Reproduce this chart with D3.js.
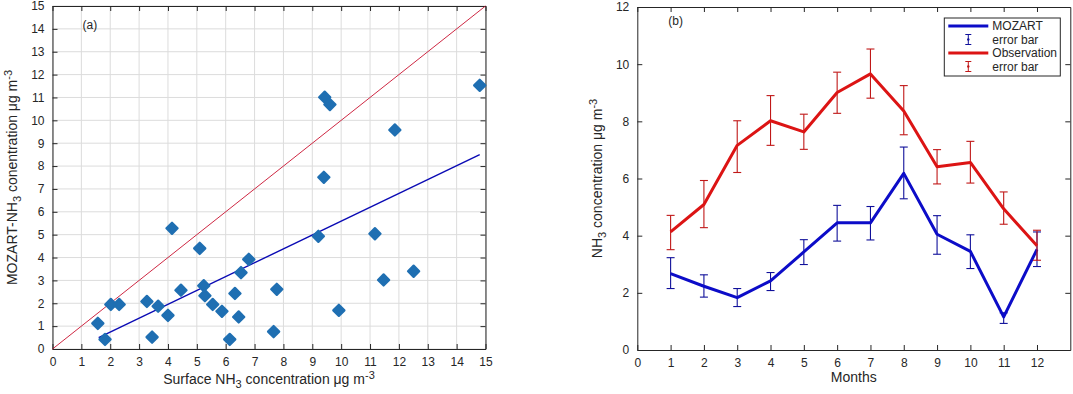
<!DOCTYPE html>
<html>
<head>
<meta charset="utf-8">
<script src="https://cdn.jsdelivr.net/npm/d3@7"></script>
<style>
  body { margin: 0; background: #fff; }
  svg { display: block; font-family: "Liberation Sans", Arial, sans-serif; }
  .tick text { fill: #262626; font-size: 12px; }
  .lbl { fill: #262626; font-size: 14px; }
</style>
</head>
<body>
<div class="vis"></div>
<script>
(function() {
  'use strict';

  // panel (a): surface obs vs MOZART
  var obsX = [1.57, 1.82, 2.02, 2.31, 3.27, 3.45, 3.66, 4.0, 4.14, 4.45, 5.10, 5.24, 5.28, 5.55, 5.87, 6.14,
              6.32, 6.45, 6.53, 6.80, 7.66, 7.77, 9.21, 9.92, 11.17, 11.47, 12.51, 9.43, 9.61, 11.86, 9.40, 14.80];
  var modY = [1.12, 0.42, 1.95, 1.95, 2.08, 0.52, 1.87, 1.47, 5.28, 2.57, 4.40, 2.77, 2.33, 1.95, 1.65, 0.42,
              2.43, 1.40, 3.34, 3.92, 0.76, 2.61, 4.93, 1.69, 5.04, 3.02, 3.40, 11.01, 10.69, 9.58, 7.51, 11.53];
  var fitX = [1.6, 14.8], fitY = [0.5, 8.5];
  var oneX = [0, 15], oneY = [0, 15];
  var ticksA = d3.range(0, 16);

  // panel (b): monthly means with error bars
  var months = [1, 2, 3, 4, 5, 6, 7, 8, 9, 10, 11, 12];
  var mozart   = [2.67, 2.23, 1.83, 2.42, 3.43, 4.45, 4.45, 6.18, 4.05, 3.45, 1.16, 3.52];
  var mozartHi = [3.23, 2.63, 2.15, 2.71, 3.86, 5.06, 5.02, 7.10, 4.70, 4.03, 1.30, 4.13];
  var mozartLo = [2.15, 1.85, 1.52, 2.08, 2.99, 3.81, 3.85, 5.29, 3.35, 2.85, 0.93, 2.92];
  var obs   = [4.13, 5.09, 7.16, 8.02, 7.63, 9.01, 9.66, 8.36, 6.41, 6.56, 4.94, 3.65];
  var obsHi = [4.71, 5.93, 8.02, 8.90, 8.25, 9.72, 10.53, 9.25, 7.01, 7.30, 5.53, 4.19];
  var obsLo = [3.51, 4.28, 6.21, 7.16, 7.02, 8.28, 8.81, 7.53, 5.81, 5.84, 4.40, 3.14];
  var ticksBx = d3.range(0, 13);
  var ticksBy = [0, 2, 4, 6, 8, 10, 12];

  var ink = '#262626';

  var svg = d3.select('.vis').append('svg')
    .attr('width', 1073)
    .attr('height', 394);

  function frame(g, x, y, w, h, xt, yt, grid) {
    if (grid) {
      g.append('g').selectAll('line.gx').data(xt).enter().append('line')
        .attr('x1', x).attr('x2', x).attr('y1', 0).attr('y2', h)
        .attr('stroke', '#dcdcdc').attr('stroke-width', 1);
      g.append('g').selectAll('line.gy').data(yt).enter().append('line')
        .attr('y1', y).attr('y2', y).attr('x1', 0).attr('x2', w)
        .attr('stroke', '#dcdcdc').attr('stroke-width', 1);
    }
    var axes = [
      [d3.axisBottom(x).tickValues(xt).tickSizeInner(-5).tickSizeOuter(0).tickPadding(8), 'translate(0,' + h + ')', true],
      [d3.axisTop(x).tickValues(xt).tickSizeInner(-5).tickSizeOuter(0), 'translate(0,0)', false],
      [d3.axisLeft(y).tickValues(yt).tickSizeInner(-5).tickSizeOuter(0).tickPadding(8), 'translate(0,0)', true],
      [d3.axisRight(y).tickValues(yt).tickSizeInner(-5).tickSizeOuter(0), 'translate(' + w + ',0)', false]
    ];
    axes.forEach(function(a) {
      var ag = g.append('g').attr('transform', a[1]).call(a[0]);
      ag.select('.domain').attr('stroke', ink);
      ag.selectAll('.tick line').attr('stroke', ink);
      if (!a[2]) ag.selectAll('.tick text').remove();
    });
  }

  function subLabel(t, parts) {
    // parts: [main, sub, main, sup]
    t.append('tspan').text(parts[0]);
    t.append('tspan').attr('dy', 4).style('font-size', '11px').text(parts[1]);
    t.append('tspan').attr('dy', -4).text(parts[2]);
    t.append('tspan').attr('dy', -5).style('font-size', '11px').text(parts[3]);
  }

  // ---------- panel (a)
  var wA = 433, hA = 343;
  var gA = svg.append('g').attr('transform', 'translate(52.5,6)');
  var xA = d3.scaleLinear().domain([0, 15]).range([0, wA]);
  var yA = d3.scaleLinear().domain([0, 15]).range([hA, 0]);

  frame(gA, xA, yA, wA, hA, ticksA, ticksA, true);

  gA.append('line')
    .attr('x1', xA(oneX[0])).attr('y1', yA(oneY[0]))
    .attr('x2', xA(oneX[1])).attr('y2', yA(oneY[1]))
    .attr('stroke', '#c8102e').attr('stroke-width', 0.9);

  gA.append('line')
    .attr('x1', xA(fitX[0])).attr('y1', yA(fitY[0]))
    .attr('x2', xA(fitX[1])).attr('y2', yA(fitY[1]))
    .attr('stroke', '#0a0ab4').attr('stroke-width', 1.4);

  var diamond = d3.symbol().type(d3.symbolDiamond2).size(80);
  gA.selectAll('.pt').data(obsX).enter().append('path')
    .attr('class', 'pt')
    .attr('d', diamond)
    .attr('transform', function(d, i) { return 'translate(' + xA(d) + ',' + yA(modY[i]) + ')'; })
    .attr('fill', '#1f6fb2')
    .attr('stroke', '#1f6fb2')
    .attr('stroke-width', 2.2)
    .attr('stroke-linejoin', 'round');

  gA.append('text').attr('class', 'lbl').attr('x', 30).attr('y', 23)
    .style('font-size', '12px').text('(a)');

  var xlA = gA.append('text').attr('class', 'lbl')
    .attr('x', wA / 2).attr('y', hA + 35).attr('text-anchor', 'middle');
  subLabel(xlA, ['Surface NH', '3', ' concentration \u03bcg m', '-3']);

  var ylA = gA.append('text').attr('class', 'lbl')
    .attr('transform', 'translate(-35.5,' + (hA / 2) + ') rotate(-90)')
    .attr('text-anchor', 'middle');
  subLabel(ylA, ['MOZART-NH', '3', ' conentration \u03bcg m', '-3']);

  // ---------- panel (b)
  var wB = 433, hB = 343;
  var gB = svg.append('g').attr('transform', 'translate(637.3,7)');
  var xB = d3.scaleLinear().domain([0, 13]).range([0, wB]);
  var yB = d3.scaleLinear().domain([0, 12]).range([hB, 0]);

  frame(gB, xB, yB, wB, hB, ticksBx, ticksBy, false);

  var line = d3.line()
    .x(function(d) { return xB(d[0]); })
    .y(function(d) { return yB(d[1]); });

  function series(vals, lo, hi, lineColor, barColor) {
    var pts = months.map(function(m, i) { return [m, vals[i]]; });
    var eb = gB.append('g');
    months.forEach(function(m, i) {
      var cx = xB(m);
      eb.append('line').attr('x1', cx).attr('x2', cx).attr('y1', yB(lo[i])).attr('y2', yB(hi[i]));
      eb.append('line').attr('x1', cx - 4).attr('x2', cx + 4).attr('y1', yB(lo[i])).attr('y2', yB(lo[i]));
      eb.append('line').attr('x1', cx - 4).attr('x2', cx + 4).attr('y1', yB(hi[i])).attr('y2', yB(hi[i]));
    });
    eb.selectAll('line').attr('stroke', barColor).attr('stroke-width', 1.1);
    gB.append('path').datum(pts)
      .attr('d', line)
      .attr('fill', 'none')
      .attr('stroke', lineColor)
      .attr('stroke-width', 3)
      .attr('stroke-linejoin', 'round');
  }

  series(mozart, mozartLo, mozartHi, '#0c0cc8', '#10109a');
  series(obs, obsLo, obsHi, '#dc1414', '#c01818');

  gB.append('text').attr('class', 'lbl').attr('x', 31).attr('y', 18)
    .style('font-size', '12px').text('(b)');

  gB.append('text').attr('class', 'lbl')
    .attr('x', xB(6.5)).attr('y', hB + 32).attr('text-anchor', 'middle').text('Months');

  var ylB = gB.append('text').attr('class', 'lbl')
    .attr('transform', 'translate(-35,' + (hB / 2) + ') rotate(-90)')
    .attr('text-anchor', 'middle');
  subLabel(ylB, ['NH', '3', ' concentration \u03bcg m', '-3']);

  // legend
  var legItems = [
    {name: 'MOZART', kind: 'line', color: '#0c0cc8'},
    {name: 'error bar', kind: 'bar', color: '#10109a'},
    {name: 'Observation', kind: 'line', color: '#dc1414'},
    {name: 'error bar', kind: 'bar', color: '#c01818'}
  ];
  var leg = gB.append('g').attr('transform', 'translate(307,11)');
  leg.append('rect').attr('width', 116).attr('height', 58)
    .attr('fill', '#fff').attr('stroke', ink).attr('stroke-width', 1);
  legItems.forEach(function(it, i) {
    var ly = 8 + i * 13.5;
    var row = leg.append('g').attr('transform', 'translate(0,' + ly + ')');
    if (it.kind === 'line') {
      row.append('line').attr('x1', 4).attr('x2', 44).attr('y1', 0).attr('y2', 0)
        .attr('stroke', it.color).attr('stroke-width', 3);
    } else {
      row.append('line').attr('x1', 24).attr('x2', 24).attr('y1', -5).attr('y2', 5)
        .attr('stroke', it.color);
      row.append('line').attr('x1', 21).attr('x2', 27).attr('y1', -5).attr('y2', -5)
        .attr('stroke', it.color);
      row.append('line').attr('x1', 21).attr('x2', 27).attr('y1', 5).attr('y2', 5)
        .attr('stroke', it.color);
      row.append('circle').attr('cx', 24).attr('cy', 0).attr('r', 1.2).attr('fill', it.color);
    }
    row.append('text').attr('class', 'lbl').attr('x', 48).attr('y', 4)
      .style('font-size', '12px').text(it.name);
  });

}());
</script>
</body>
</html>
